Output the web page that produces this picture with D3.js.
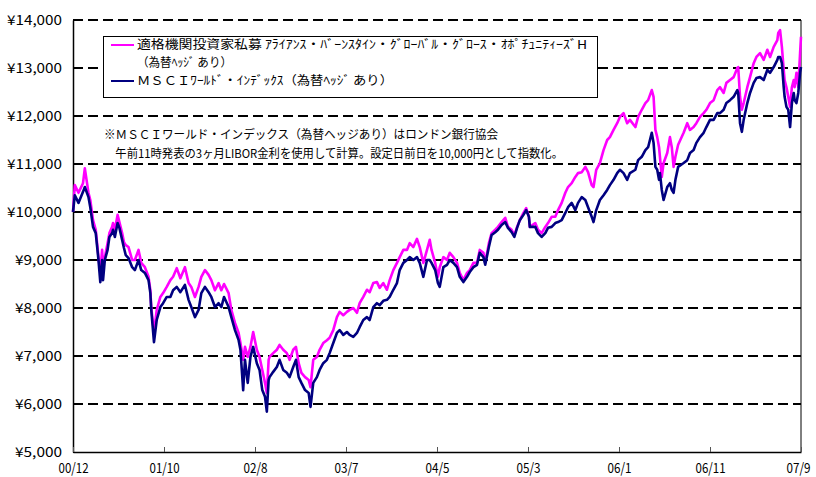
<!DOCTYPE html>
<html><head><meta charset="utf-8">
<script src="https://cdn.jsdelivr.net/npm/d3@7"></script>
<style>
html,body{margin:0;padding:0;background:#fff;}
svg{display:block;}
text{font-family:"Noto Sans CJK JP","Noto Sans",sans-serif;}
</style></head>
<body>
<svg id="chart" width="816" height="477"></svg>
<script>
// months elapsed since 2000/12 (x position on the category axis)
const months = [0.0,0.2,0.6,1.1,1.3,1.7,1.9,2.2,2.5,2.8,3.0,3.2,3.3,3.5,3.8,4.0,4.3,4.4,4.6,4.9,5.1,5.4,5.6,5.8,6.1,6.5,6.8,7.2,7.5,7.9,8.3,8.5,8.6,8.9,9.2,9.6,9.9,10.3,10.7,11.0,11.4,11.8,12.3,12.7,13.0,13.4,13.8,14.1,14.5,14.9,15.2,15.6,16.0,16.3,16.6,17.1,17.4,17.8,18.2,18.4,18.7,18.9,19.2,19.5,19.8,20.2,20.5,20.8,21.1,21.3,21.5,21.6,22.0,22.4,22.7,23.1,23.5,23.8,24.2,24.5,24.8,25.1,25.5,25.9,26.1,26.4,26.8,27.1,27.5,27.9,28.2,28.6,29.0,29.3,29.7,30.1,30.4,30.8,31.2,31.5,31.9,32.3,32.6,33.0,33.4,33.7,34.1,34.5,34.8,35.2,35.6,35.9,36.3,36.7,37.0,37.4,37.8,38.1,38.5,38.9,39.2,39.4,39.8,40.1,40.3,40.7,41.1,41.4,41.8,42.2,42.5,42.9,43.3,43.6,44.0,44.4,44.7,45.1,45.3,45.7,46.0,46.4,46.7,47.1,47.5,47.8,48.2,48.5,48.8,49.1,49.5,49.8,50.1,50.2,50.8,51.1,51.5,51.9,52.2,52.6,53.0,53.3,53.7,54.1,54.4,54.8,55.2,55.5,55.9,56.3,56.6,57.0,57.2,57.5,57.9,58.3,58.7,59.0,59.4,59.8,60.1,60.5,60.9,61.2,61.8,62.1,62.5,62.9,63.2,63.6,63.8,64.0,64.2,64.4,64.5,64.7,64.9,65.3,65.6,65.8,66.0,66.2,66.5,67.1,67.5,67.8,68.2,68.5,68.9,69.3,69.6,70.0,70.4,70.8,71.1,71.5,71.8,72.2,72.6,73.0,73.1,73.3,73.5,73.7,74.1,74.4,74.8,75.1,75.5,75.9,76.3,76.6,77.0,77.4,77.5,77.7,77.9,78.1,78.2,78.4,78.6,78.8,79.0,79.2,79.3,79.5,79.7,79.9,80.0];

// 適格機関投資家私募 ファンド (為替ヘッジあり)
const fundValues = [10000,10560,10400,10600,10910,10400,10250,9830,9630,9060,8730,9210,8850,9060,9350,9560,9690,9770,9630,9940,9790,9560,9370,9310,9270,9000,9000,9210,8940,8850,8650,8370,8020,7480,7960,8230,8310,8440,8580,8650,8830,8620,8850,8520,8440,8230,8440,8650,8790,8690,8580,8370,8520,8370,8500,8310,7960,7690,7480,7270,6920,7190,6980,7190,7500,7130,6980,6710,6440,6230,6920,6980,7060,7130,7230,7130,7060,6920,7130,7190,6850,6650,6560,6500,6350,6920,6980,7130,7270,7330,7380,7540,7810,7920,7850,7920,7960,8000,7900,8100,8230,8380,8330,8520,8540,8420,8520,8380,8580,8790,8940,9060,9210,9210,9350,9270,9440,9270,8940,9210,9420,9210,8940,8650,8850,9060,9000,9150,9060,8940,8730,8580,8730,8790,8940,8940,9210,9150,8940,9350,9560,9630,9690,9790,9880,9690,9630,9520,9690,9830,9980,10080,9900,9690,9770,9630,9560,9690,9770,9900,9900,10040,10190,10400,10520,10600,10730,10810,10830,10940,10830,10560,10520,10880,11020,11290,11500,11560,11710,11850,11980,12060,11850,11920,11770,11980,12130,12270,12330,12540,12400,11710,11560,11350,11150,10730,11020,11230,11560,11350,10940,11150,11400,11650,11850,11710,11770,11850,11980,12060,12130,12270,12330,12540,12600,12480,12690,12750,12810,13000,13020,12400,12130,12270,12600,12810,13100,13230,13310,13170,13380,13230,13440,13580,13730,13790,13440,12960,12750,12600,12400,12190,12600,12750,12600,12900,12600,13310,13650];

// ＭＳＣＩワールド・インデックス (為替ヘッジあり)
const msciValues = [10000,10350,10190,10420,10520,10310,10100,9690,9560,9000,8540,9000,8580,9000,9210,9480,9560,9630,9480,9770,9670,9420,9250,9100,9040,8850,8790,9000,8790,8730,8580,8310,7960,7290,7750,8020,8100,8230,8230,8370,8440,8330,8480,8170,8020,7810,7960,8310,8440,8330,8230,8020,8100,8020,8230,8020,7810,7540,7330,7130,6290,6920,6440,6980,7190,6850,6710,6290,6150,5840,6500,6560,6670,6770,6920,6710,6650,6560,6770,6920,6560,6440,6290,6230,5940,6440,6560,6710,6850,6920,7060,7270,7480,7540,7440,7500,7440,7400,7480,7600,7750,7810,7750,8020,8100,8060,8150,8170,8230,8380,8520,8790,8940,9000,9060,9000,9060,8940,8650,9000,9000,8940,8790,8520,8440,8850,8900,9000,8940,8850,8650,8540,8650,8750,8850,8900,9150,9060,8900,9270,9520,9580,9630,9730,9790,9670,9580,9480,9670,9830,9940,10040,9900,9690,9690,9560,9480,9560,9670,9690,9770,9790,9830,9980,10100,10190,10040,10190,10310,10250,10100,9900,9790,10040,10250,10350,10460,10560,10670,10810,10880,10810,10670,10810,10880,11080,11150,11290,11350,11650,11440,10940,10880,10670,10810,10460,10250,10520,10600,10460,10400,10670,10940,11020,11080,11230,11290,11440,11560,11650,11770,11920,11920,12060,12060,12130,12270,12330,12400,12540,12480,11850,11670,11920,12270,12480,12690,12790,12810,12750,12960,12900,13020,13170,13230,13230,13100,12600,12400,12190,12130,11770,12270,12480,12330,12270,12480,12900,13020];

const xTickMonths = [0,10,20,30,40,50,60,70,80];
const xTickLabels = ["00/12","01/10","02/8","03/7","04/5","05/3","06/1","06/11","07/9"];
const yTickValues = [5000,6000,7000,8000,9000,10000,11000,12000,13000,14000];

const seriesNames = [
  ["適格機関投資家私募 ｱﾗｲｱﾝｽ・ﾊﾞｰﾝｽﾀｲﾝ・ｸﾞﾛｰﾊﾞﾙ・ｸﾞﾛｰｽ・ｵﾎﾟﾁｭﾆﾃｨｰｽﾞH", "（為替ﾍｯｼﾞ あり）"],
  ["ＭＳＣＩﾜｰﾙﾄﾞ・ｲﾝﾃﾞｯｸｽ（為替ﾍｯｼﾞ あり）"]
];
const noteLines = [
  "※ＭＳＣＩワールド・インデックス（為替ヘッジあり）はロンドン銀行協会",
  "　午前11時発表の3ヶ月LIBOR金利を使用して計算。設定日前日を10,000円として指数化。"
];

const svg = d3.select("#chart");
const L = 73, R = 801, T = 20, B = 452;
const x = d3.scaleLinear().domain([0, 80]).range([L, R]);
const y = d3.scaleLinear().domain([5000, 14000]).range([B, T]);

// gridlines
svg.append("g").selectAll("line").data(yTickValues.filter(v => v > 5000)).join("line")
  .attr("x1", L).attr("x2", R).attr("y1", d => y(d)).attr("y2", d => y(d))
  .attr("stroke", "#000").attr("stroke-width", 2).attr("stroke-dasharray", "10,5");

// right border
svg.append("line").attr("x1", R).attr("x2", R).attr("y1", T).attr("y2", B)
  .attr("stroke", "#000").attr("stroke-width", 1);

// axes
const yAxis = d3.axisLeft(y).tickValues(yTickValues).tickSizeInner(-5).tickSizeOuter(0)
  .tickPadding(11).tickFormat(d => "¥" + d3.format(",")(d));
const gy = svg.append("g").attr("transform", `translate(${L},0)`).call(yAxis);
gy.select(".domain").attr("stroke", "#000").attr("stroke-width", 1.5);
gy.selectAll("text").attr("font-size", 13.5).attr("fill", "#000")
  .attr("textLength", function() { return this.textContent.length * 8 - 1; })
  .attr("lengthAdjust", "spacingAndGlyphs");

const xAxis = d3.axisBottom(x).tickValues(xTickMonths).tickSizeInner(-5).tickSizeOuter(0)
  .tickPadding(11).tickFormat((d, i) => xTickLabels[i]);
const gx = svg.append("g").attr("transform", `translate(0,${B})`).call(xAxis);
gx.select(".domain").attr("stroke", "#000").attr("stroke-width", 1.5);
gx.selectAll(".tick line").attr("stroke", "#555");
gx.selectAll("text").attr("font-size", 14).attr("fill", "#000")
  .attr("textLength", function() { return this.textContent.length * 6; })
  .attr("lengthAdjust", "spacingAndGlyphs");
// keep the last label inside the picture
gx.selectAll(".tick").filter((d, i, n) => i === n.length - 1).select("text")
  .attr("text-anchor", "end").attr("dx", 9);

// lines
const fundData = months.map((m, i) => ({m, v: fundValues[i]}));
const msciData = months.map((m, i) => ({m, v: msciValues[i]}));
const line = d3.line().x(d => x(d.m)).y(d => y(d.v));
svg.append("path").datum(fundData).attr("d", line).attr("fill", "none")
  .attr("stroke", "#FF00FF").attr("stroke-width", 2.6).attr("stroke-linejoin", "round");
svg.append("path").datum(msciData).attr("d", line).attr("fill", "none")
  .attr("stroke", "#000080").attr("stroke-width", 2.6).attr("stroke-linejoin", "round");

// legend
const lg = svg.append("g");
lg.append("rect").attr("x", 103.5).attr("y", 36.5).attr("width", 494).attr("height", 61)
  .attr("fill", "#fff").attr("stroke", "#000").attr("stroke-width", 1);
const legendColors = ["#FF00FF", "#000080"];
const rowY = [[45, 63], [81]];
const rowLen = [[450, 95], [256]];
seriesNames.forEach((names, si) => {
  lg.append("line").attr("x1", 111).attr("x2", 134).attr("y1", rowY[si][0]).attr("y2", rowY[si][0])
    .attr("stroke", legendColors[si]).attr("stroke-width", 2);
  names.forEach((t, j) => {
    lg.append("text").attr("x", 137).attr("y", rowY[si][j]).attr("dy", "0.35em")
      .attr("font-size", 12.2).attr("fill", "#000")
      .attr("textLength", rowLen[si][j]).attr("lengthAdjust", "spacingAndGlyphs").text(t);
  });
});

// note
const noteLen = [394, 459];
noteLines.forEach((t, i) => {
  svg.append("text").attr("x", 104).attr("y", 135 + i * 19).attr("dy", "0.35em")
    .attr("font-size", 12).attr("fill", "#000")
    .attr("textLength", noteLen[i]).attr("lengthAdjust", "spacingAndGlyphs").text(t);
});
</script>
</body></html>
